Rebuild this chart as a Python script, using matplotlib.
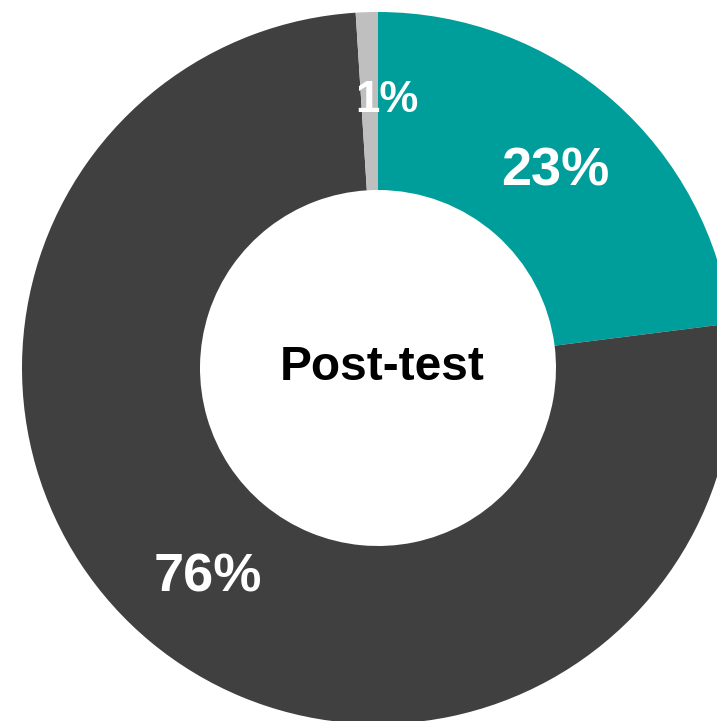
import matplotlib
matplotlib.use("Agg")
import matplotlib.pyplot as plt

categories = ["Correct", "Incorrect", "No answer"]
values = [23, 76, 1]
labels = ["23%", "76%", "1%"]
colors = ["#009E9A", "#404040", "#BFBFBF"]
center_title = "Post-test"

plt.rcParams['font.family'] = ['Liberation Sans', 'DejaVu Sans']

W, H = 717, 721
fig = plt.figure(figsize=(W / 100, H / 100), dpi=100)
cx, cy, R = 378, 368, 356
ax = fig.add_axes([(cx - R) / W, (H - cy - R) / H, 2 * R / W, 2 * R / H])
ax.set_xlim(-1, 1)
ax.set_ylim(-1, 1)
ax.axis('off')

ax.pie(values, colors=colors, startangle=90, counterclock=False, radius=1.0,
       wedgeprops=dict(width=0.5, linewidth=0), center=(0, 0))
ax.set_xlim(-1, 1)
ax.set_ylim(-1, 1)

def px(x, y):
    return (x - cx) / R, (cy - y) / R

label_pos = [(555, 171), (208, 578), (387, 101)]
label_sizes = [39, 39, 31.5]
for lab, (x, y), s in zip(labels, label_pos, label_sizes):
    dx, dy = px(x, y)
    ax.text(dx, dy, lab, color="white", fontsize=s, fontweight="bold",
            ha="center", va="center")

dx, dy = px(382, 367)
ax.text(dx, dy, center_title, color="black", fontsize=34.5, fontweight="bold",
        ha="center", va="center")

fig.savefig("out.png", dpi=100)
